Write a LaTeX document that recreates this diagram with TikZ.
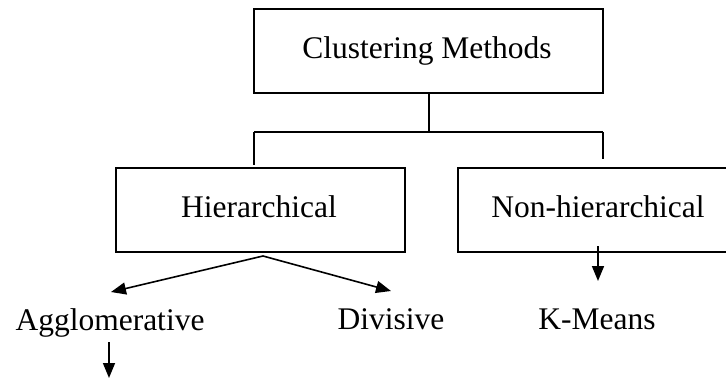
\documentclass[tikz,border=0pt]{standalone}
\usepackage{fontspec}
\setmainfont{Liberation Serif}
\usetikzlibrary{arrows.meta}
\begin{document}
\begin{tikzpicture}[x=1pt,y=-1pt,
  box/.style={draw,line width=1.6pt,inner sep=0pt},
  lbl/.style={anchor=base,inner sep=0pt,font=\fontsize{31.5}{36}\selectfont},
  conn/.style={line width=1.6pt},
  arr/.style={line width=1.6pt,-{Triangle[length=15pt,width=12pt]}}]
\useasboundingbox (0,0) rectangle (726,381);
\clip (0,0) rectangle (726,381);
% boxes
\node[box,minimum width=349pt,minimum height=84pt] (top) at (428.5,51) {};
\node[box,minimum width=289pt,minimum height=84pt] (hier) at (260.5,210) {};
\node[box,minimum width=290pt,minimum height=84pt] (nh) at (603,210) {};
% texts
\node[lbl] (toptext) at (427,58) {Clustering Methods};
\node[lbl] (hiertext) at (259,217) {Hierarchical};
\node[lbl] (nhtext) at (598,217) {Non-hierarchical};
\node[lbl] (agg) at (110,330) {Agglomerative};
\node[lbl] (div) at (391,329) {Divisive};
\node[lbl] (km) at (597,329) {K-Means};
% connector tree
\coordinate (junc) at (429,132);
\coordinate (jl) at (254,132);
\coordinate (jr) at (603,132);
\coordinate (dl) at (254,165);
\coordinate (dr) at (603,159);
\draw[conn] (top.south -| junc) -- (junc);
\draw[conn] (jl) -- (jr);
\draw[conn] (jl) -- (dl);
\draw[conn] (jr) -- (dr);
% arrows
\coordinate (hs) at (263,256);
\coordinate (aggtip) at (111,292);
\coordinate (divtip) at (391,291);
\draw[arr] (hs) -- (aggtip);
\draw[arr] (hs) -- (divtip);
\coordinate (nhs) at (598,246);
\coordinate (nhtip) at (598,281);
\draw[arr] (nhs) -- (nhtip);
\coordinate (ags) at (109,342);
\coordinate (agtip) at (109,378);
\draw[arr] (ags) -- (agtip);
\end{tikzpicture}
\end{document}
